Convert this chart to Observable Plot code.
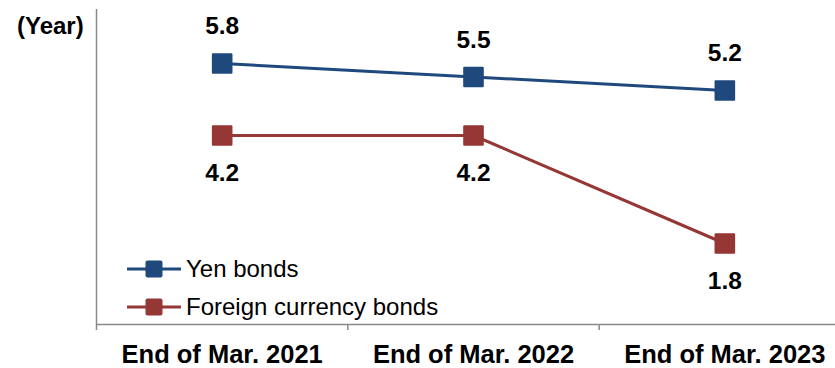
<!DOCTYPE html>
<html>
<head>
<meta charset="utf-8">
<script src="https://cdn.jsdelivr.net/npm/d3@7"></script>
<script src="https://cdn.jsdelivr.net/npm/@observablehq/plot@0.6"></script>
<style>
  html, body { margin: 0; padding: 0; background: #fff; }
  #wrap { position: relative; width: 835px; height: 368px; overflow: hidden; font-family: "Liberation Sans", Arial, sans-serif; }
  #unit { position: absolute; left: 17px; top: 13px; font-size: 24px; font-weight: bold; line-height: 26px; color: #000; }
  #legend { position: absolute; left: 127px; top: 250px; font-size: 24px; color: #000; }
  .row { display: flex; align-items: center; height: 38px; }
  .row svg { margin-right: 5px; }
</style>
</head>
<body>
<div id="wrap">
  <div id="unit">(Year)</div>
  <div id="legend"></div>
</div>
<script>
const categories = ["End of Mar. 2021", "End of Mar. 2022", "End of Mar. 2023"];
const yenBonds = [5.8, 5.5, 5.2];
const foreignBonds = [4.2, 4.2, 1.8];
const seriesNames = ["Yen bonds", "Foreign currency bonds"];
const seriesColors = ["#1F497D", "#953735"];

const rows = [];
categories.forEach((c, i) => {
  rows.push({series: seriesNames[0], i, value: yenBonds[i]});
  rows.push({series: seriesNames[1], i, value: foreignBonds[i]});
});
const yenRows = rows.filter(d => d.series === seriesNames[0]);
const forRows = rows.filter(d => d.series === seriesNames[1]);

const axisColor = "#8a8a8a";
const font = '"Liberation Sans", Arial, sans-serif';

const chart = Plot.plot({
  width: 835,
  height: 368,
  marginTop: 9,
  marginBottom: 44,
  marginLeft: 96,
  marginRight: 0,
  style: {fontFamily: font, fontSize: "24px", fontWeight: "bold", color: "#000", background: "transparent"},
  x: {type: "linear", domain: [-0.5, categories.length - 0.5], range: [96, 850], label: null},
  y: {domain: [0, 7], range: [324, 9], axis: null, label: null},
  color: {domain: seriesNames, range: seriesColors},
  marks: [
    Plot.ruleX([-0.5], {y1: 0, y2: 7, stroke: axisColor, strokeWidth: 1.5}),
    Plot.ruleY([0], {x1: -0.5, x2: categories.length - 0.5, stroke: axisColor, strokeWidth: 1.5}),
    Plot.axisX({ticks: d3.range(-0.5, categories.length, 1), tickSize: 6, tickFormat: () => "", label: null, color: axisColor, strokeWidth: 1.5}),
    Plot.axisX({ticks: d3.range(categories.length), tickSize: 0, tickPadding: 20, tickFormat: i => categories[i], label: null, fontSize: 25.5, fill: "#000"}),
    Plot.line(rows, {x: "i", y: "value", stroke: "series", z: "series", strokeWidth: 3}),
    Plot.dot(rows, {x: "i", y: "value", symbol: "square", r: 10.5, fill: "series", stroke: "series", strokeWidth: 2, strokeLinejoin: "round"}),
    Plot.text(yenRows, {x: "i", y: "value", text: d => d.value.toFixed(1), dy: -37, fontSize: 24.5, fontWeight: "bold", fill: "#000"}),
    Plot.text(forRows, {x: "i", y: "value", text: d => d.value.toFixed(1), dy: 38, fontSize: 24.5, fontWeight: "bold", fill: "#000"})
  ]
});
chart.style.position = "absolute";
chart.style.left = "0";
chart.style.top = "0";
const wrap = document.getElementById("wrap");
wrap.insertBefore(chart, wrap.firstChild);

const legend = document.getElementById("legend");
seriesNames.forEach((name, k) => {
  const row = document.createElement("div");
  row.className = "row";
  row.innerHTML = `<svg width="54" height="20"><line x1="0" x2="54" y1="10" y2="10" stroke="${seriesColors[k]}" stroke-width="3"/><rect x="18.5" y="1.5" width="17" height="17" rx="2" fill="${seriesColors[k]}"/></svg><span>${name}</span>`;
  legend.appendChild(row);
});
</script>
</body>
</html>
